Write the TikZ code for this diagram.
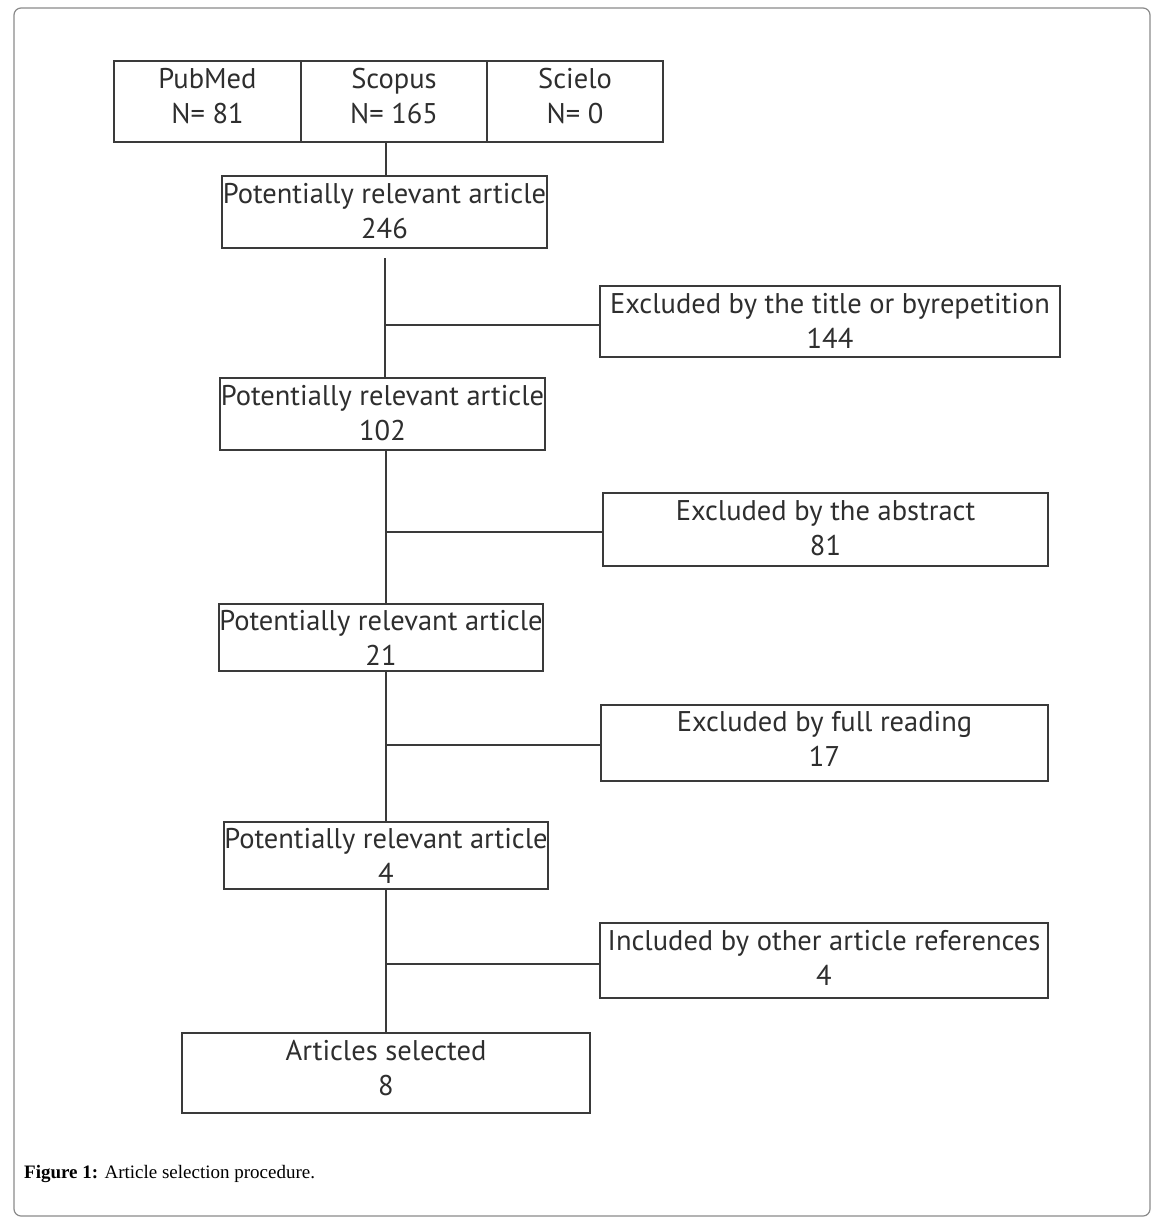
\documentclass[tikz,border=0pt]{standalone}
\usepackage{fontspec}
\setmainfont{Liberation Serif}
\newfontfamily\boxfont{PT Sans}
\usetikzlibrary{calc}
\definecolor{linec}{HTML}{3A3A3A}
\definecolor{textc}{HTML}{2E2E2E}
\definecolor{framec}{HTML}{8A8A8A}
\tikzset{
  stepbox/.style={draw=linec, line width=1.8pt, rectangle, inner sep=0pt},
  txt/.style={align=center, text=textc, inner sep=0pt,
    font=\boxfont\fontsize{28.5}{35}\selectfont},
  conn/.style={draw=linec, line width=1.6pt}
}
\begin{document}
\begin{tikzpicture}[x=1pt,y=-1pt]
\useasboundingbox (0,0) rectangle (1164,1224);
\draw[framec, line width=1.2pt, rounded corners=7pt] (14,8) rectangle (1150,1216);
% top sources
\node[stepbox, minimum width=187pt, minimum height=81pt, label={[txt,yshift=5pt]center:PubMed\\N= 81}] (pub) at (207.5,101.5) {};
\node[stepbox, minimum width=186pt, minimum height=81pt, label={[txt,yshift=5pt]center:Scopus\\N= 165}] (sco) at (394,101.5) {};
\node[stepbox, minimum width=176pt, minimum height=81pt, label={[txt,yshift=5pt]center:Scielo\\N= 0}] (sci) at (575,101.5) {};
% main column
\node[stepbox, minimum width=325pt, minimum height=72pt, label={[txt,yshift=1pt]center:Potentially relevant article\\246}] (b1) at (384.5,212) {};
\node[stepbox, minimum width=325pt, minimum height=72pt, label={[txt,yshift=1pt]center:Potentially relevant article\\102}] (b2) at (382.5,414) {};
\node[stepbox, minimum width=324pt, minimum height=67pt, label={[txt]center:Potentially relevant article\\21}] (b3) at (381,637.5) {};
\node[stepbox, minimum width=324pt, minimum height=67pt, label={[txt]center:Potentially relevant article\\4}] (b4) at (386,855.5) {};
\node[stepbox, minimum width=408pt, minimum height=80pt, label={[txt,yshift=5pt]center:Articles selected\\8}] (fin) at (386,1073) {};
% side boxes
\node[stepbox, minimum width=460pt, minimum height=71pt, label={[txt,yshift=1pt]center:Excluded by the title or byrepetition\\144}] (e1) at (830,321.5) {};
\node[stepbox, minimum width=445pt, minimum height=73pt, label={[txt,yshift=1pt]center:Excluded by the abstract\\81}] (e2) at (825.5,529.5) {};
\node[stepbox, minimum width=447pt, minimum height=76pt, label={[txt,yshift=4pt]center:Excluded by full reading\\17}] (e3) at (824.5,743) {};
\node[stepbox, minimum width=448pt, minimum height=75pt, label={[txt,yshift=3pt]center:Included by other article references\\4}] (e4) at (824,960.5) {};
% connectors
\coordinate (s0) at (386,142);
\coordinate (g1) at (385,258);
\coordinate (j1) at (385,325);
\coordinate (t1) at (386,450);
\coordinate (j2) at (386,532);
\coordinate (t2) at (386,671);
\coordinate (j3) at (386,745);
\coordinate (t3) at (386,889);
\coordinate (j4) at (386,964);
\draw[conn] (s0) -- (s0 |- b1.north);
\draw[conn] (g1) -- (g1 |- b2.north);
\draw[conn] (j1) -- (j1 -| e1.west);
\draw[conn] (t1) -- (t1 |- b3.north);
\draw[conn] (j2) -- (j2 -| e2.west);
\draw[conn] (t2) -- (t2 |- b4.north);
\draw[conn] (j3) -- (j3 -| e3.west);
\draw[conn] (t3) -- (t3 |- fin.north);
\draw[conn] (j4) -- (j4 -| e4.west);
% caption
\node[anchor=base west, inner sep=0pt, font=\fontsize{19}{23}\selectfont] (cap) at (24,1178) {\textbf{Figure 1:} Article selection procedure.};
\end{tikzpicture}
\end{document}
